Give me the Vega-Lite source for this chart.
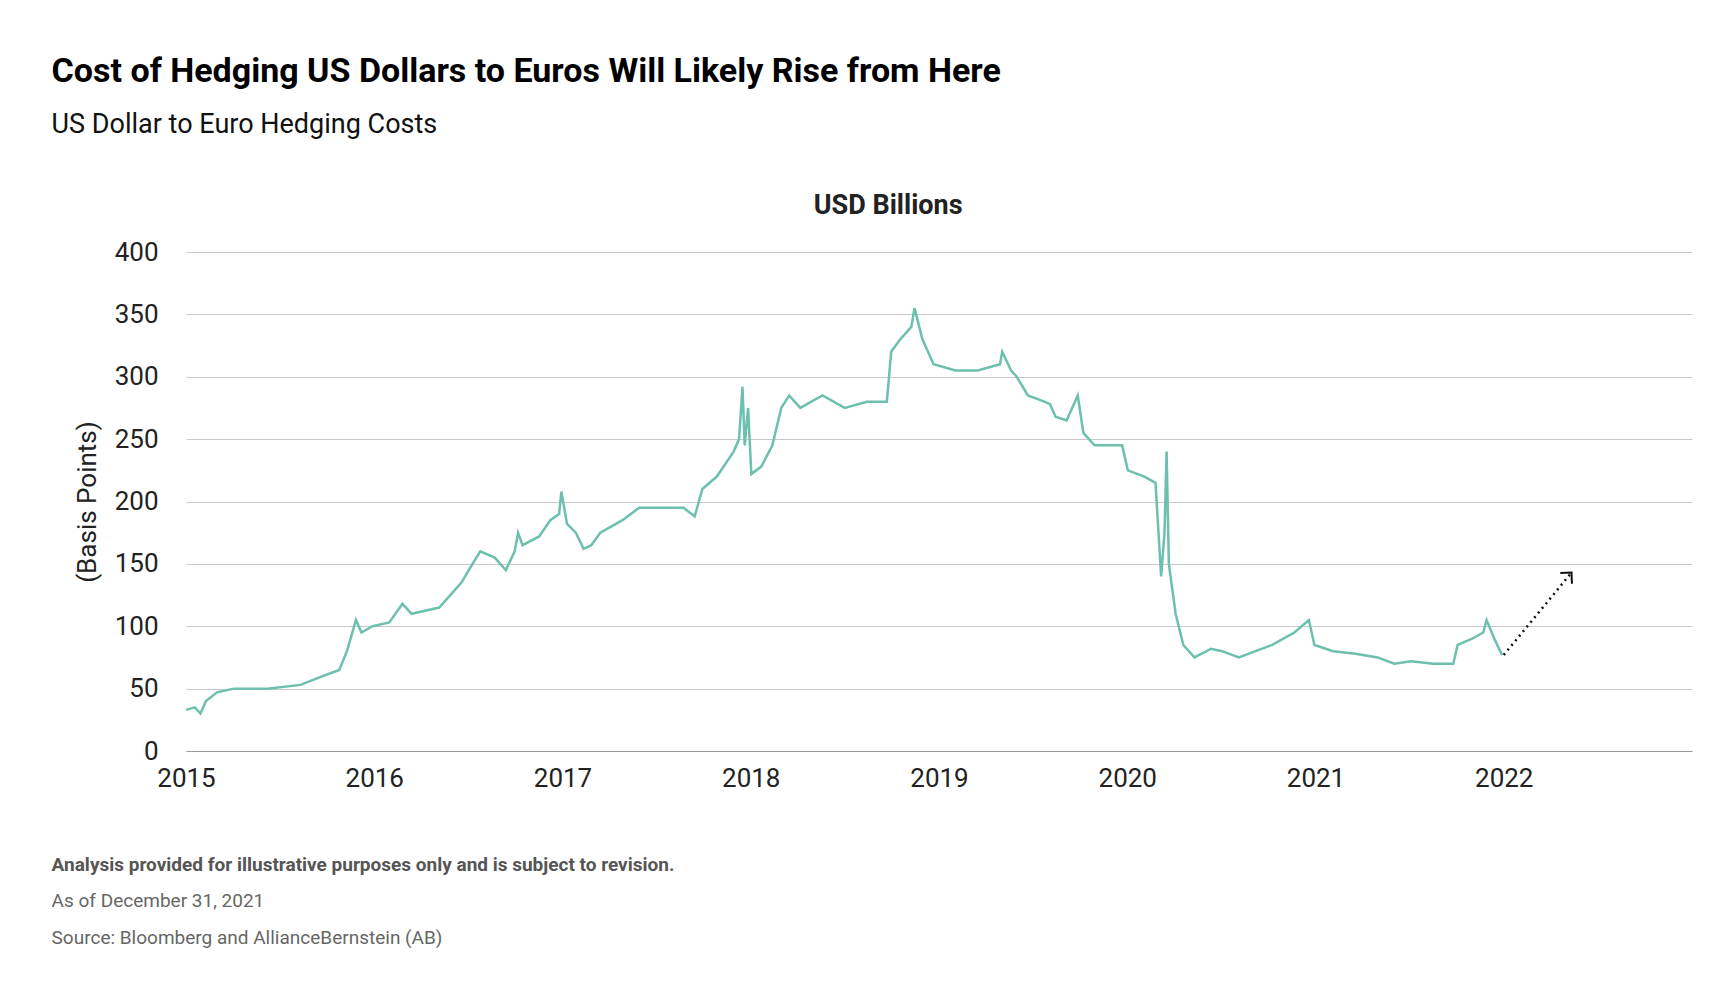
{
  "$schema": "https://vega.github.io/schema/vega-lite/v6.json",
  "width": 1506,
  "height": 499,
  "autosize": "none",
  "padding": {"left": 186, "top": 252, "right": 42, "bottom": 235},
  "background": "white",
  "config": {
    "view": {"stroke": null},
    "font": "Roboto",
    "axis": {"labelFontSize": 26, "labelColor": "#222", "titleFontSize": 26, "titleColor": "#222", "labelFont": "Roboto", "titleFont": "Roboto", "titleFontWeight": "normal"}
  },
  "datasets": {
    "hedge": [
      {"year": 2015.000, "bp": 33}, {"year": 2015.047, "bp": 35}, {"year": 2015.077, "bp": 30}, {"year": 2015.106, "bp": 40},
      {"year": 2015.165, "bp": 47}, {"year": 2015.254, "bp": 50}, {"year": 2015.431, "bp": 50}, {"year": 2015.608, "bp": 53},
      {"year": 2015.726, "bp": 60}, {"year": 2015.814, "bp": 65}, {"year": 2015.855, "bp": 80}, {"year": 2015.903, "bp": 105},
      {"year": 2015.932, "bp": 95}, {"year": 2015.991, "bp": 100}, {"year": 2016.080, "bp": 103}, {"year": 2016.150, "bp": 118},
      {"year": 2016.198, "bp": 110}, {"year": 2016.345, "bp": 115}, {"year": 2016.404, "bp": 125}, {"year": 2016.463, "bp": 135},
      {"year": 2016.522, "bp": 150}, {"year": 2016.563, "bp": 160}, {"year": 2016.640, "bp": 155}, {"year": 2016.699, "bp": 145},
      {"year": 2016.746, "bp": 160}, {"year": 2016.764, "bp": 175}, {"year": 2016.788, "bp": 165}, {"year": 2016.876, "bp": 172},
      {"year": 2016.935, "bp": 185}, {"year": 2016.982, "bp": 190}, {"year": 2016.994, "bp": 208}, {"year": 2017.024, "bp": 182},
      {"year": 2017.071, "bp": 175}, {"year": 2017.112, "bp": 162}, {"year": 2017.153, "bp": 165}, {"year": 2017.201, "bp": 175},
      {"year": 2017.260, "bp": 180}, {"year": 2017.319, "bp": 185}, {"year": 2017.407, "bp": 195}, {"year": 2017.555, "bp": 195},
      {"year": 2017.643, "bp": 195}, {"year": 2017.702, "bp": 188}, {"year": 2017.743, "bp": 210}, {"year": 2017.820, "bp": 220},
      {"year": 2017.909, "bp": 240}, {"year": 2017.938, "bp": 250}, {"year": 2017.956, "bp": 292}, {"year": 2017.968, "bp": 245},
      {"year": 2017.986, "bp": 275}, {"year": 2018.003, "bp": 222}, {"year": 2018.056, "bp": 228}, {"year": 2018.115, "bp": 245},
      {"year": 2018.162, "bp": 275}, {"year": 2018.204, "bp": 285}, {"year": 2018.263, "bp": 275}, {"year": 2018.381, "bp": 285},
      {"year": 2018.499, "bp": 275}, {"year": 2018.617, "bp": 280}, {"year": 2018.723, "bp": 280}, {"year": 2018.746, "bp": 320},
      {"year": 2018.794, "bp": 330}, {"year": 2018.853, "bp": 340}, {"year": 2018.870, "bp": 355}, {"year": 2018.912, "bp": 330},
      {"year": 2018.971, "bp": 310}, {"year": 2019.088, "bp": 305}, {"year": 2019.206, "bp": 305}, {"year": 2019.324, "bp": 310},
      {"year": 2019.336, "bp": 320}, {"year": 2019.383, "bp": 305}, {"year": 2019.413, "bp": 300}, {"year": 2019.472, "bp": 285},
      {"year": 2019.560, "bp": 280}, {"year": 2019.590, "bp": 278}, {"year": 2019.619, "bp": 268}, {"year": 2019.678, "bp": 265},
      {"year": 2019.737, "bp": 285}, {"year": 2019.767, "bp": 255}, {"year": 2019.826, "bp": 245}, {"year": 2019.914, "bp": 245},
      {"year": 2019.973, "bp": 245}, {"year": 2020.003, "bp": 225}, {"year": 2020.091, "bp": 220}, {"year": 2020.150, "bp": 215},
      {"year": 2020.180, "bp": 140}, {"year": 2020.198, "bp": 175}, {"year": 2020.209, "bp": 240}, {"year": 2020.221, "bp": 150},
      {"year": 2020.257, "bp": 110}, {"year": 2020.298, "bp": 85}, {"year": 2020.357, "bp": 75}, {"year": 2020.445, "bp": 82},
      {"year": 2020.504, "bp": 80}, {"year": 2020.593, "bp": 75}, {"year": 2020.681, "bp": 80}, {"year": 2020.770, "bp": 85},
      {"year": 2020.888, "bp": 95}, {"year": 2020.965, "bp": 105}, {"year": 2020.994, "bp": 85}, {"year": 2021.094, "bp": 80},
      {"year": 2021.212, "bp": 78}, {"year": 2021.330, "bp": 75}, {"year": 2021.419, "bp": 70}, {"year": 2021.507, "bp": 72},
      {"year": 2021.625, "bp": 70}, {"year": 2021.732, "bp": 70}, {"year": 2021.755, "bp": 85}, {"year": 2021.832, "bp": 90},
      {"year": 2021.891, "bp": 95}, {"year": 2021.909, "bp": 105}, {"year": 2021.950, "bp": 90}, {"year": 2021.991, "bp": 77}
    ],
    "arrow": [
      {"year": 2022.0, "bp": 77, "end": false},
      {"year": 2022.36, "bp": 143, "end": true}
    ]
  },
  "layer": [
    {
      "data": {"name": "hedge"},
      "mark": {"type": "line", "color": "#6dbfae", "strokeWidth": 2.5},
      "encoding": {
        "x": {"field": "year", "type": "quantitative", "scale": {"domain": [2015, 2023], "nice": false},
          "axis": {"values": [2015, 2016, 2017, 2018, 2019, 2020, 2021, 2022], "format": "d", "title": null, "grid": false, "ticks": false, "domainColor": "#999", "labelPadding": 14, "labelFlush": false}},
        "y": {"field": "bp", "type": "quantitative", "scale": {"domain": [0, 400], "nice": false},
          "axis": {"values": [0, 50, 100, 150, 200, 250, 300, 350, 400], "title": "(Basis Points)", "titlePadding": 14, "domain": false, "ticks": false, "gridColor": "#c8c8c8", "labelPadding": 28}}
      }
    },
    {
      "data": {"name": "arrow"},
      "mark": {"type": "line", "color": "#111", "strokeWidth": 2.5, "strokeDash": [2, 4]},
      "encoding": {"x": {"field": "year", "type": "quantitative"}, "y": {"field": "bp", "type": "quantitative"}}
    },
    {
      "data": {"name": "arrow"},
      "transform": [{"filter": "datum.end"}],
      "mark": {"type": "point", "shape": "M -1 1 L 0 0 L 1 1", "size": 250, "angle": 43, "stroke": "#111", "strokeWidth": 2, "filled": false, "opacity": 1},
      "encoding": {"x": {"field": "year", "type": "quantitative"}, "y": {"field": "bp", "type": "quantitative"}}
    },
    {
      "data": {"values": [{"year": 2018.73, "bp": 436.5, "text": "USD Billions"}]},
      "mark": {"type": "text", "fontSize": 27, "fontWeight": "bold", "color": "#222", "baseline": "middle"},
      "encoding": {"x": {"field": "year", "type": "quantitative"}, "y": {"field": "bp", "type": "quantitative"}, "text": {"field": "text"}}
    },
    {
      "data": {"values": [{"year": 2014.286, "bp": 544, "text": "Cost of Hedging US Dollars to Euros Will Likely Rise from Here"}]},
      "mark": {"type": "text", "align": "left", "baseline": "middle", "fontSize": 34, "fontWeight": "bold", "color": "#000"},
      "encoding": {"x": {"field": "year", "type": "quantitative"}, "y": {"field": "bp", "type": "quantitative"}, "text": {"field": "text"}}
    },
    {
      "data": {"values": [{"year": 2014.286, "bp": 502, "text": "US Dollar to Euro Hedging Costs"}]},
      "mark": {"type": "text", "align": "left", "baseline": "middle", "fontSize": 27, "color": "#111"},
      "encoding": {"x": {"field": "year", "type": "quantitative"}, "y": {"field": "bp", "type": "quantitative"}, "text": {"field": "text"}}
    },
    {
      "data": {"values": [{"year": 2014.286, "bp": -91, "text": "Analysis provided for illustrative purposes only and is subject to revision."}]},
      "mark": {"type": "text", "align": "left", "baseline": "middle", "fontSize": 19, "fontWeight": "bold", "color": "#555"},
      "encoding": {"x": {"field": "year", "type": "quantitative"}, "y": {"field": "bp", "type": "quantitative"}, "text": {"field": "text"}}
    },
    {
      "data": {"values": [
        {"year": 2014.286, "bp": -120, "text": "As of December 31, 2021"},
        {"year": 2014.286, "bp": -150, "text": "Source: Bloomberg and AllianceBernstein (AB)"}
      ]},
      "mark": {"type": "text", "align": "left", "baseline": "middle", "fontSize": 19, "color": "#666"},
      "encoding": {"x": {"field": "year", "type": "quantitative"}, "y": {"field": "bp", "type": "quantitative"}, "text": {"field": "text"}}
    }
  ]
}
